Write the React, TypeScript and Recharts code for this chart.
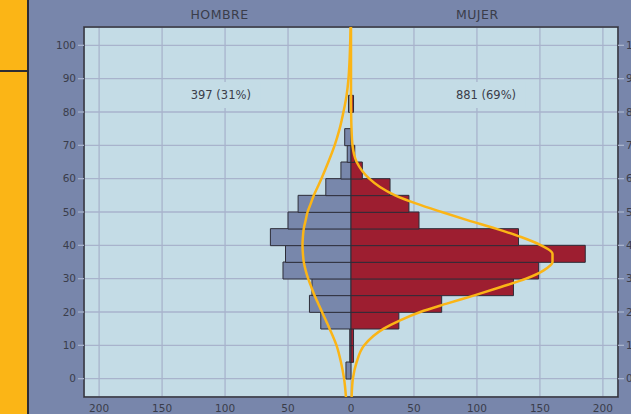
import React from 'react';
import {
    ComposedChart,
    Bar,
    Line,
    XAxis,
    YAxis,
    CartesianGrid,
    ReferenceArea
} from 'recharts';

// Grupos de edad (centro de cada tramo de 5 años)
const ageBins = [2.5, 7.5, 12.5, 17.5, 22.5, 27.5, 32.5, 37.5, 42.5, 47.5, 52.5, 57.5, 62.5, 67.5, 72.5, 77.5, 82.5];
const hombreCounts = [4, 1, 1, 24, 33, 31, 54, 52, 64, 50, 42, 20, 8, 3, 5, 0, 2];
const mujerCounts = [0, 2, 2, 38, 72, 129, 149, 186, 133, 54, 46, 31, 9, 3, 0, 0, 2];

// Curvas ajustadas
const curveAges = [-5.5, 0, 5, 10, 15, 17.5, 20, 22.5, 25, 27.5, 30, 32.5, 35, 37.5, 40, 42.5, 45, 47.5, 50, 52.5, 55, 57.5, 60, 65, 70, 75, 80, 85, 90, 95, 100, 105.5];
const hombreCurve = [4, 5.5, 8, 11.5, 17, 20, 23, 26, 29, 31.5, 34, 36, 37.5, 38.2, 38.5, 38.2, 37.5, 36, 34.5, 32, 29.5, 26.5, 23.5, 18, 13, 9, 6, 3.5, 2, 1.2, 0.7, 0.3];
const mujerCurve = [0.5, 1.5, 4.5, 10.5, 26, 39, 55, 76, 98, 119, 139, 153, 160, 160, 151, 135, 115, 93, 72, 52, 35, 23, 14.5, 4.5, 1.2, 0.4, 0.1, 0, 0, 0, 0, 0];

const ageTicks = [0, 10, 20, 30, 40, 50, 60, 70, 80, 90, 100];
const valueTicks = [-200, -150, -100, -50, 0, 50, 100, 150, 200];

const barRows = ageBins.map((age, i) => ({
    age,
    hombre: -hombreCounts[i],
    mujer: mujerCounts[i]
}));

const curveRows = curveAges.map((age, i) => ({
    age,
    hombreFit: -hombreCurve[i],
    mujerFit: mujerCurve[i]
}));

const AGE_DOMAIN: [number, number] = [-5.5, 105.5];
const VALUE_DOMAIN: [number, number] = [-212, 212];

const tickStyle = { fill: '#3a3d4a', fontSize: 10.5 };
const gridColor = '#a8b3cc';

const label = (left: number, top: number, text: string, bg?: string) => (
    <div
        style={{
            position: 'absolute',
            left,
            top,
            transform: 'translateX(-50%)',
            background: bg,
            padding: bg ? '5px 10px' : 0,
            color: '#3a3d4a',
            fontSize: bg ? 11.5 : 12.5,
            letterSpacing: bg ? 0 : 0.5,
            whiteSpace: 'nowrap',
            lineHeight: '16px'
        }}
    >
        {text}
    </div>
);

export default function App() {
    return (
        <div
            style={{
                position: 'absolute',
                left: 0,
                top: 0,
                width: 631,
                height: 414,
                overflow: 'hidden',
                background: '#7886ab',
                fontFamily: '"DejaVu Sans", sans-serif'
            }}
        >
            <div style={{ position: 'absolute', left: 0, top: 0, width: 27, height: 414, background: '#fbb516' }} />
            <div style={{ position: 'absolute', left: 27, top: 0, width: 2, height: 414, background: '#2c2c34' }} />
            <div style={{ position: 'absolute', left: 0, top: 70, width: 27, height: 2, background: '#2c2c34' }} />

            <div style={{ position: 'absolute', left: 0, top: 0 }}>
                <ComposedChart
                    width={631}
                    height={414}
                    data={barRows}
                    layout="vertical"
                    stackOffset="sign"
                    barCategoryGap={0}
                    barGap={0}
                    margin={{ top: 27, right: 0, bottom: 0, left: 0 }}
                >
                    <CartesianGrid fill="#c4dce6" stroke={gridColor} strokeWidth={1.3} />
                    <XAxis
                        type="number"
                        domain={VALUE_DOMAIN}
                        allowDataOverflow
                        ticks={valueTicks}
                        tickFormatter={(v: number) => String(Math.abs(v))}
                        height={17}
                        axisLine={false}
                        tickLine={false}
                        tick={tickStyle}
                        interval={0}
                    />
                    <YAxis
                        type="number"
                        dataKey="age"
                        domain={AGE_DOMAIN}
                        allowDataOverflow
                        reversed
                        ticks={ageTicks}
                        width={84}
                        axisLine={false}
                        tickLine={{ stroke: gridColor, strokeWidth: 1.3 }}
                        tick={tickStyle}
                        interval={0}
                    />
                    <YAxis
                        yAxisId="right"
                        orientation="right"
                        type="number"
                        dataKey="age"
                        domain={AGE_DOMAIN}
                        allowDataOverflow
                        reversed
                        ticks={ageTicks}
                        width={13}
                        axisLine={false}
                        tickLine={{ stroke: gridColor, strokeWidth: 1.3 }}
                        tick={tickStyle}
                        interval={0}
                    />
                    <Bar
                        dataKey="hombre"
                        stackId="pyramid"
                        fill="#7887ab"
                        stroke="#2d2d38"
                        strokeWidth={1}
                        isAnimationActive={false}
                    />
                    <Bar
                        dataKey="mujer"
                        stackId="pyramid"
                        fill="#9d1e30"
                        stroke="#2d2d38"
                        strokeWidth={1}
                        isAnimationActive={false}
                    />
                    <Line
                        yAxisId="right"
                        data={curveRows}
                        dataKey="hombreFit"
                        type="monotone"
                        stroke="#fbb516"
                        strokeWidth={2.5}
                        dot={false}
                        isAnimationActive={false}
                    />
                    <Line
                        yAxisId="right"
                        data={curveRows}
                        dataKey="mujerFit"
                        type="monotone"
                        stroke="#fbb516"
                        strokeWidth={2.5}
                        dot={false}
                        isAnimationActive={false}
                    />
                    <ReferenceArea
                        x1={VALUE_DOMAIN[0]}
                        x2={VALUE_DOMAIN[1]}
                        y1={AGE_DOMAIN[0]}
                        y2={AGE_DOMAIN[1]}
                        fill="none"
                        stroke="#2d2d36"
                        strokeWidth={1.5}
                        fillOpacity={0}
                    />
                </ComposedChart>
            </div>

            {label(219.5, 7, 'HOMBRE')}
            {label(477.3, 7, 'MUJER')}
            {label(220.8, 82, '397 (31%)', '#c4dce6')}
            {label(486, 82, '881 (69%)', '#c4dce6')}
        </div>
    );
}
